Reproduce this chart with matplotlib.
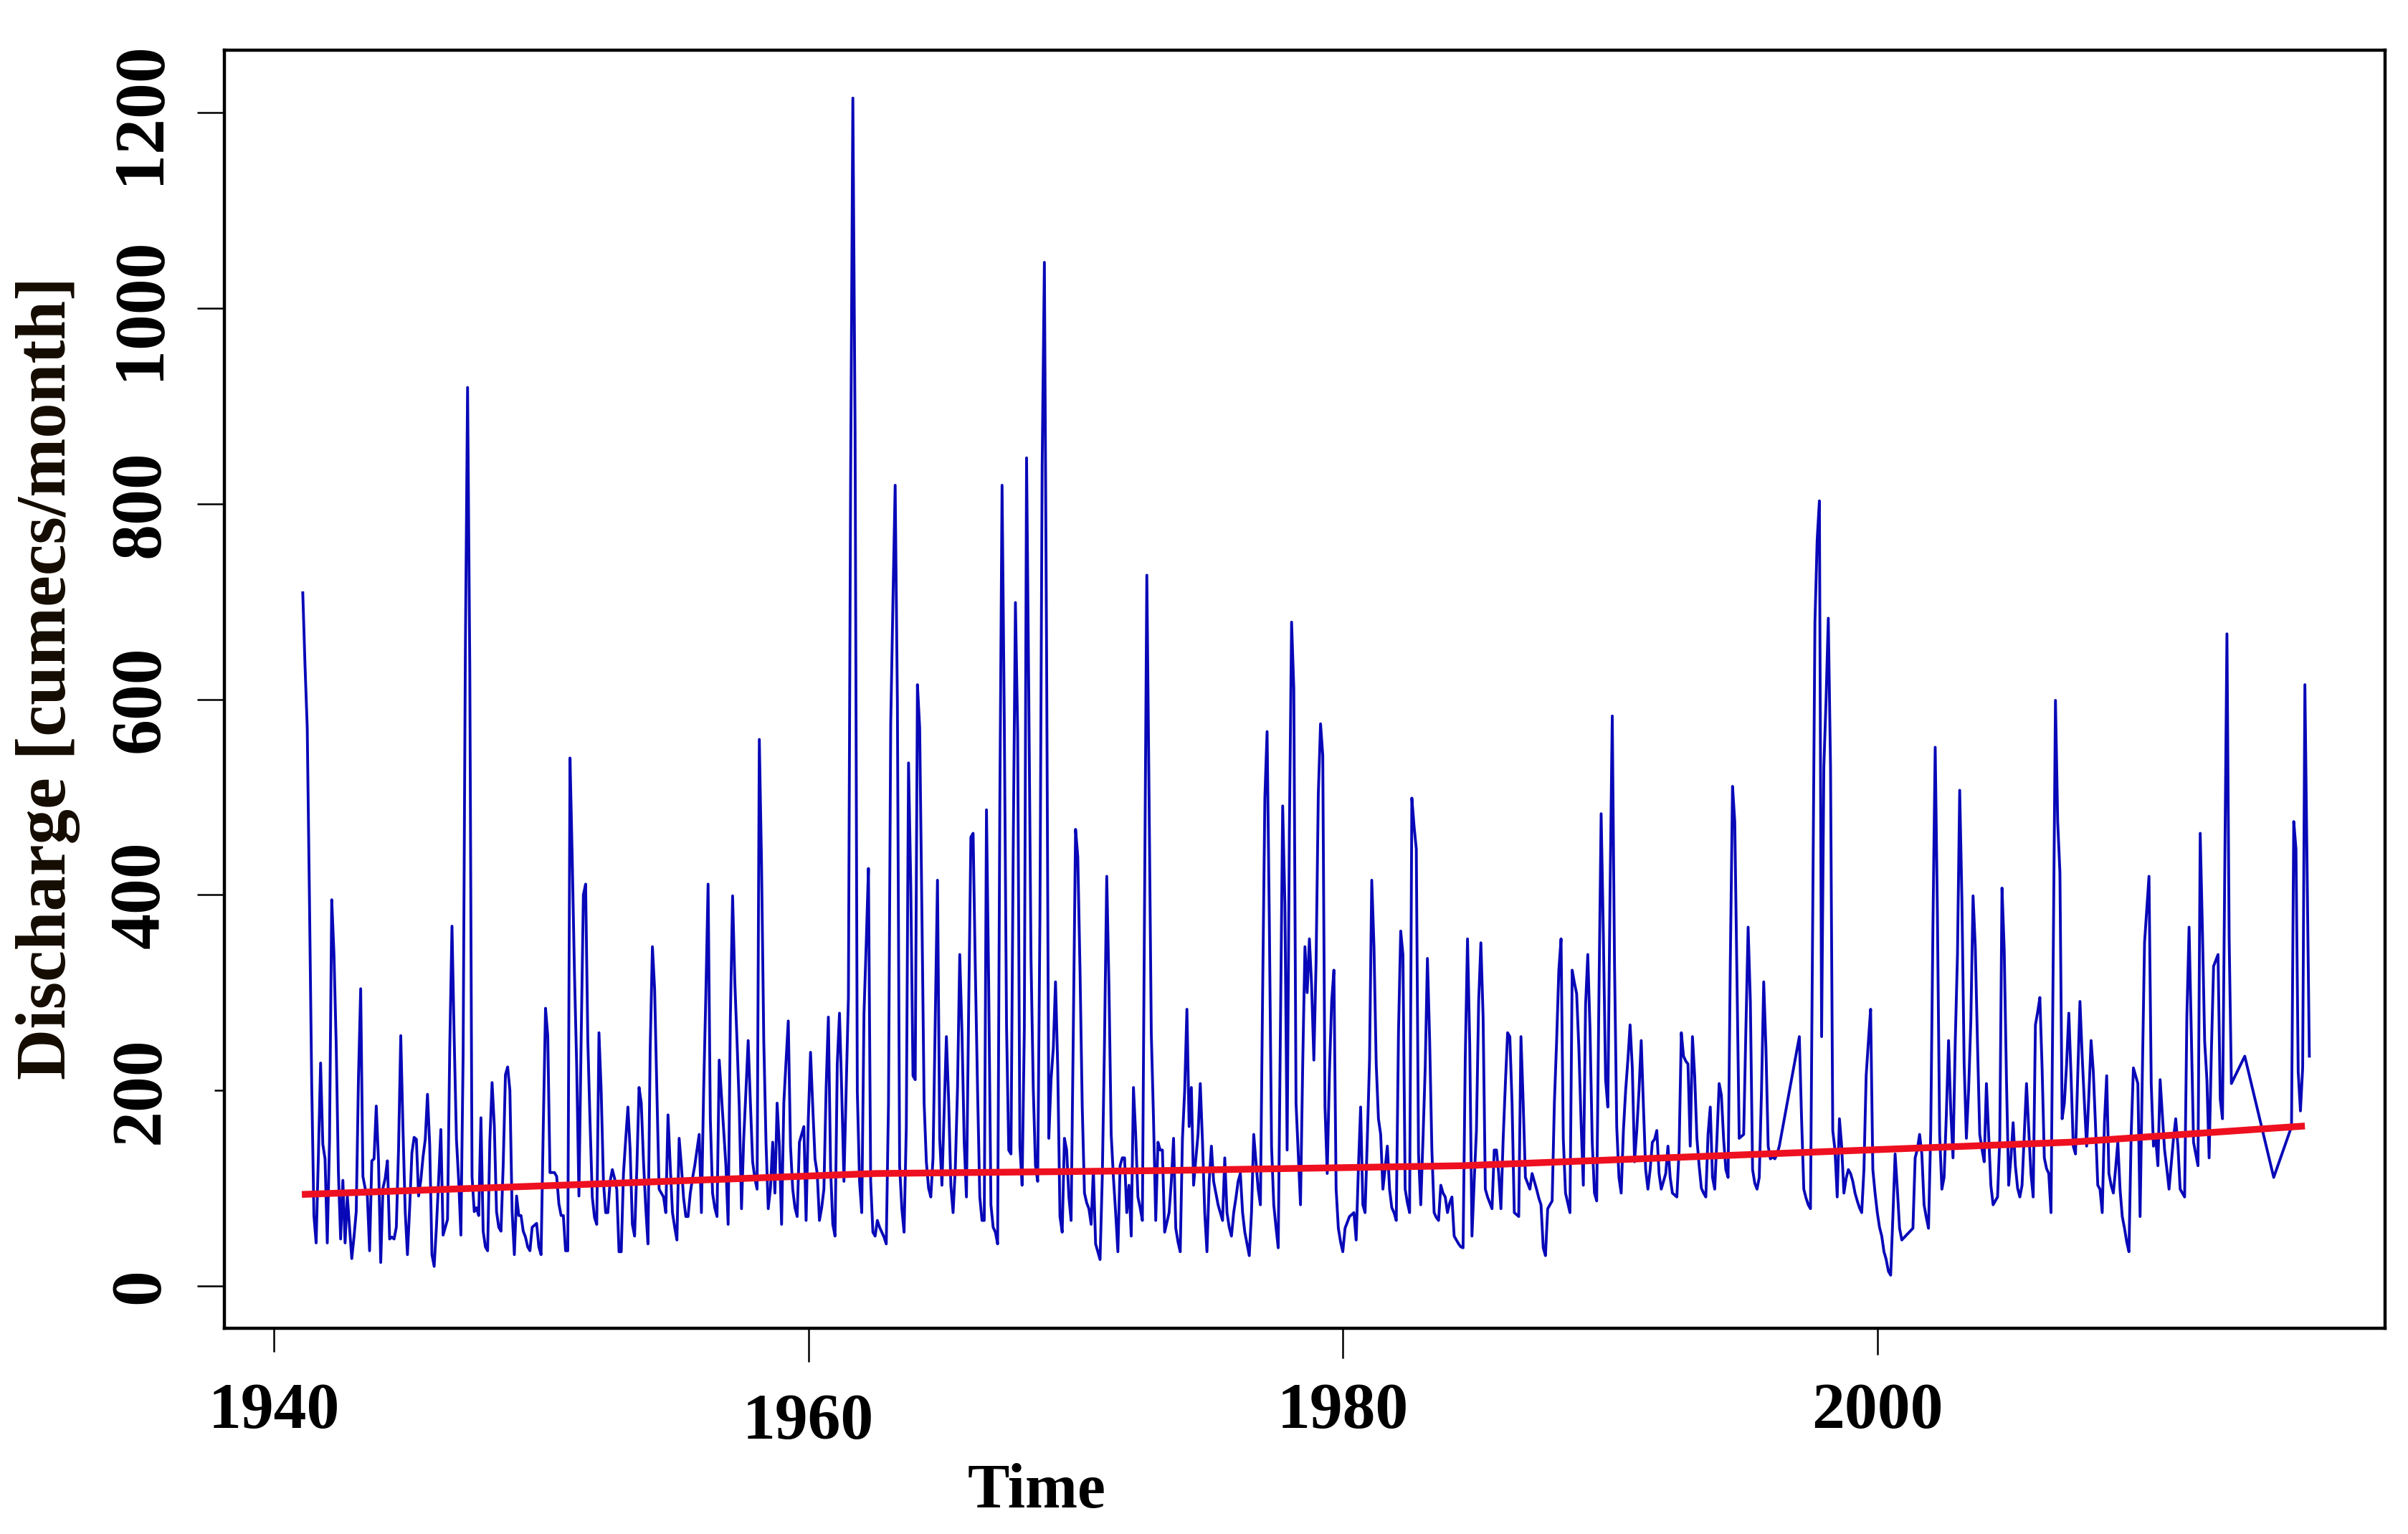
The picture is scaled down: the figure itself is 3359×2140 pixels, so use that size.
import matplotlib
matplotlib.use("Agg")
import matplotlib.pyplot as plt
import matplotlib.transforms as mtransforms
import numpy as np

# monthly discharge, month index 0 = Jan 1941
# (breaks where the record jumps, R just drew a straight line across)
flow_1941 = [709, 635, 571, 395, 208, 72, 44, 132, 228, 145,
             130, 44, 148, 395, 340, 248, 116, 48, 108, 44,
             92, 60, 28, 50, 76, 212, 304, 112, 100, 92,
             36, 128, 130, 184, 128, 24, 100, 110, 128, 48,
             50, 48, 60, 140, 256, 160, 76, 32, 80, 136,
             152, 150, 92, 108, 132, 150, 196, 144, 32, 20,
             60, 108, 160, 52, 60, 68, 244, 368, 252, 150,
             108, 52, 236, 647, 919, 631, 112, 76, 80, 72,
             172, 56, 40, 36, 148, 208, 164, 76, 60, 56,
             124, 216, 224, 200, 76, 32, 92, 72, 72, 56,
             50, 40, 36, 60, 62, 64, 40, 32, 164, 284,
             256, 116, 116, 116, 112, 84, 72, 72, 36, 36,
             540, 436, 320, 224, 92, 252, 400, 411]
flow_1951 = [250, 167, 91, 70, 63, 259, 199, 107, 75, 75,
             107, 119, 110, 99, 35, 35, 115, 150, 183, 139,
             63, 51, 120, 203, 187, 127, 80, 43, 243, 347,
             303, 199, 99, 95, 91, 75, 175, 123, 75, 60,
             47, 151, 123, 90, 71, 71, 95, 110, 123, 139,
             155, 75, 200, 299, 411, 171, 95, 80, 71, 231,
             195, 160, 123, 63, 275, 399, 311, 250, 183, 79,
             151, 200, 251, 187, 127, 110, 99, 559, 431, 251,
             147, 79, 100, 147, 95, 187, 143, 63, 187, 230,
             271, 143, 99, 80, 71, 147, 155, 163, 67, 171,
             239, 183, 130, 115, 67, 80, 99, 203, 275, 120,
             63, 51, 227, 279, 199, 107, 200, 295, 827, 1215,
             875, 199, 107, 75, 279, 350, 427, 107, 55]
flow_1962 = [51, 67, 60, 55, 50, 43, 187, 575, 700, 819,
             595, 123, 79, 55, 163, 535, 411, 215, 211, 615,
             571, 383, 187, 127, 100, 91, 131, 271, 415, 151,
             103, 180, 255, 191, 103, 75, 120, 203, 339, 259,
             147, 91, 283, 459, 463, 323, 200, 91, 67, 67,
             487, 307, 83, 60, 55, 43, 495, 819, 579, 267,
             139, 135, 447, 699, 567, 143, 103, 263, 847, 603,
             335, 203, 123, 107, 375, 839, 1047, 643, 151, 211,
             243, 311, 223, 71, 55, 151, 139, 91, 67, 263,
             467, 439, 323, 183, 95, 85, 79, 63, 119, 43,
             35, 27, 111, 250, 419, 307, 155, 111, 75, 35,
             123, 131, 131, 75, 103, 51, 203, 155, 91, 80,
             67, 400, 727, 503, 259, 171, 67, 147, 139]
flow_1973 = [139, 55, 65, 75, 107, 151, 59, 45, 35, 151,
             200, 283, 163, 203, 103, 130, 155, 207, 147, 75,
             35, 107, 143, 107, 95, 83, 75, 67, 131, 75,
             60, 51, 75, 90, 107, 115, 75, 55, 43, 31,
             75, 155, 127, 99, 83, 300, 499, 567, 375, 143,
             83, 60, 39, 263, 491, 391, 139, 463, 679, 611,
             187, 135, 83, 227, 347, 300, 355, 307, 231, 331,
             503, 575, 543, 183, 115, 219, 291, 323, 99, 59,
             45, 35, 59, 65, 71, 73, 75, 47, 120, 183,
             83, 75, 150, 231, 415, 347, 227, 171, 155, 99,
             120, 143, 99, 80, 75, 67, 259, 363, 339, 99,
             85, 75, 499, 470, 447, 135, 83, 150, 223, 335,
             251, 139, 75, 70, 67, 103, 95, 91, 75, 85,
             91, 51, 47, 43, 40, 39]
flow_1984 = [235, 355, 247, 51, 107, 159, 291, 351, 275, 99,
             91, 85, 79, 139, 139, 115, 79, 150, 207, 259,
             255, 187, 75, 73, 71, 255, 187, 111, 105, 99,
             115, 107, 99, 90, 83, 39, 31, 79, 83, 87,
             187, 250, 323, 355, 151, 95, 85, 75, 323, 310,
             299, 243, 167, 103, 287, 339, 263, 147, 95, 87,
             295, 483, 359, 211, 183, 403, 583, 331, 163, 111,
             95, 159, 200, 231, 267, 223, 127, 159, 200, 251,
             183, 119, 99, 119, 147, 150, 159, 115, 99, 107,
             115, 143, 111, 95, 93, 91, 139, 259, 235, 230,
             227, 143, 255, 215, 151, 123, 100, 95, 91, 155,
             183, 111, 99, 151, 207, 195, 150, 119, 111, 331,
             511, 475, 311, 151, 153, 155, 263, 367, 291, 119,
             105, 99, 111, 199, 311, 243, 143, 130, 132, 130,
             135, 143]
flow_1997 = [255, 171, 99, 90, 83, 79, 383, 679, 763, 803,
             255, 531, 600, 683, 531, 159, 139, 91, 171, 143,
             95, 110, 119, 115, 107, 95, 87, 80, 75, 119,
             215, 250, 283, 119, 95, 75, 60, 51, 35, 27,
             15, 11, 71, 135, 99, 59, 47]
flow_2001 = [59, 131, 140, 155, 135, 83, 70, 59, 159, 371,
             551, 379, 155, 99, 111, 175, 251, 179, 131, 250,
             339, 507, 395, 227, 151, 200, 271, 399, 347, 247,
             155, 140, 127, 207, 155, 103, 83, 87, 91, 151,
             407, 343, 211, 103, 131, 167, 123, 100, 91, 103,
             155, 207, 160, 115, 91, 267, 280, 295, 223, 131,
             120, 115, 75, 335, 599, 475, 423, 171, 187, 227,
             279, 215, 143, 135, 215, 291, 235, 187, 143, 195,
             251, 219, 163, 103, 99, 75, 167, 215, 115, 103,
             95, 120, 147, 99, 71, 59, 45, 35, 155, 223,
             215, 207, 71, 215, 351, 385, 419, 207, 143, 151,
             123, 211, 175, 139, 120, 99, 125, 151, 171, 143,
             99, 95, 91, 275, 367, 259, 147, 135, 123, 463,
             363, 250, 211, 131, 239, 327, 333, 339, 191, 171,
             419, 667, 355, 207]
flow_2013 = [235]
flow_2014 = [111]
flow_2015 = [163, 475, 447, 219, 179, 223, 615, 423, 235]

# first month of each stretch
pieces = [(1, flow_1941), (129, flow_1951), (258, flow_1962),
          (387, flow_1973), (523, flow_1984), (673, flow_1997),
          (724, flow_2001), (873, flow_2013), (886, flow_2014),
          (894, flow_2015)]

# red trend line, read at a few points along it
trend_years = [1941.05, 1951.75, 1962.5, 1973.25, 1984.5, 1995.8, 2007.2, 2016.0]
trend_flow = [93.6, 104, 115, 118, 123, 135, 147, 163.6]

year_ticks = [1940, 1960, 1980, 2000]
flow_ticks = [0, 200, 400, 600, 800, 1000, 1200]

months, flow = [], []
for start, vals in pieces:
    months.extend(range(start, start + len(vals)))
    flow.extend(vals)
t = 1941 + np.array(months) / 12.0
flow = np.array(flow)

plt.rcParams['font.family'] = ['Liberation Serif', 'DejaVu Serif']
plt.rcParams['font.weight'] = 'bold'

fig = plt.figure(figsize=(33.59, 21.40), dpi=100)
ax = fig.add_axes([313 / 3359, 1 - 1853 / 2140, (3327 - 313) / 3359, (1853 - 70) / 2140])

ax.plot(t, flow, color='#0808b8', lw=2.8)
ax.plot(trend_years, trend_flow, color='#ee1020', lw=6.8, solid_capstyle='butt')

ax.set_xlim(1938.15, 2019.0)
ax.set_ylim(-43.3, 1264)

for s in ax.spines.values():
    s.set_linewidth(3.2)
    s.set_color('black')

# y axis: R style labels turned sideways
ax.set_yticks(flow_ticks)
ax.set_yticklabels([str(v) for v in flow_ticks], rotation=90, va='center',
                   fontsize=72, fontweight='bold')
ax.tick_params(axis='y', length=27.4, width=1.8, pad=24)
ax.yaxis.get_major_ticks()[1].tick1line.set_markersize(10)

# x axis: ticks of uneven length, labels placed by hand
ax.set_xticks(year_ticks)
ax.set_xticklabels([])
ax.tick_params(axis='x', length=27, width=1.8)
for tk, ln in zip(ax.xaxis.get_major_ticks(), [23.8, 33.8, 30.2, 26.6]):
    tk.tick1line.set_markersize(ln)

lab_tr = mtransforms.blended_transform_factory(ax.transData, fig.transFigure)
lab_base = [1992, 2007, 1992, 1992]
for yr, yb in zip(year_ticks, lab_base):
    ax.text(yr, 1 - yb / 2140, str(yr), transform=lab_tr, ha='center',
            va='baseline', fontsize=66, fontweight='bold', clip_on=False)

fig.text(1446 / 3359, 1 - 2103 / 2140, 'Time', ha='center', va='baseline',
         fontsize=63, fontweight='bold')
fig.text(67 / 3359, 1 - 946 / 2140, 'Discharge [cumecs/month]', rotation=90,
         ha='center', va='center', fontsize=71, fontweight='bold', color='#140c00')

fig.savefig('out.png', dpi=100)
